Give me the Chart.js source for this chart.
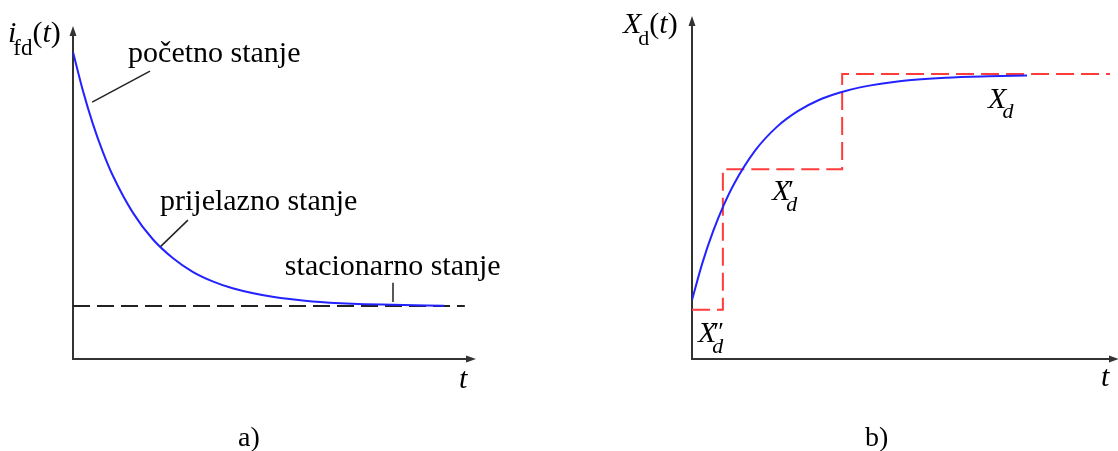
<!DOCTYPE html>
<html>
<head>
<meta charset="utf-8">
<script src="https://cdn.jsdelivr.net/npm/chart.js@4.4.1/dist/chart.umd.min.js"></script>
<style>
body { margin: 0; background: #fff; }
#wrap { position: relative; width: 1118px; height: 451px; }
canvas { position: absolute; left: 0; top: 0; }
</style>
</head>
<body>
<div id="wrap">
  <canvas id="chartA" width="1118" height="451"></canvas>
  <canvas id="chartB" width="1118" height="451"></canvas>
</div>
<script>
// a) field current i_fd(t) (t and i in arbitrary units 0..10)
const timeA = [0, 0.25, 0.5, 0.75, 1, 1.5, 2, 2.5, 3, 3.5, 4, 5, 6, 7, 8, 9.3];
const currentA = [9.33, 8.15, 7.14, 6.29, 5.57, 4.45, 3.64, 3.07, 2.65, 2.36, 2.15, 1.89, 1.75, 1.68, 1.65, 1.62];
const steadyT = [0, 9.82];
const steadyI = [1.61, 1.61];
// leader lines for the three labels
const leaderStart = [[0.48, 7.81], [1.93, 8.75]];
const leaderTrans = [[2.18, 3.40], [2.88, 4.22]];
const leaderSteady = [[8.02, 2.32], [8.02, 1.73]];

// b) reactance X_d(t)
const timeB = [0, 0.25, 0.5, 0.75, 1, 1.5, 2, 2.5, 3, 3.5, 4, 5, 6, 7, 7.92];
const reactB = [1.74, 2.85, 3.77, 4.54, 5.18, 6.16, 6.84, 7.31, 7.64, 7.86, 8.02, 8.21, 8.30, 8.34, 8.36];
const stepT = [0, 0.73, 0.73, 3.55, 3.55, 9.88];
const stepX = [1.45, 1.45, 5.60, 5.60, 8.41, 8.41];

const serif = '"Liberation Serif", "Times New Roman", serif';
const blue = 'rgb(35,35,255)';
const red = 'rgb(255,60,60)';

function pts(xs, ys) {
    return xs.map((x, i) => ({ x: x, y: ys[i] }));
}
function pairs(arr) {
    return arr.map(p => ({ x: p[0], y: p[1] }));
}

function axisScales() {
    return {
        x: {
            type: 'linear', min: 0, max: 10,
            ticks: { display: false }, grid: { display: false },
            border: { display: true, color: '#333', width: 2 },
            afterFit: s => { s.height = 0; }
        },
        y: {
            type: 'linear', min: 0, max: 10,
            ticks: { display: false }, grid: { display: false },
            border: { display: true, color: '#333', width: 2 },
            afterFit: s => { s.width = 0; }
        }
    };
}

function txt(ctx, s, x, y, font) {
    ctx.font = font;
    ctx.fillText(s, x, y);
    return ctx.measureText(s).width;
}

// arrow heads on the axes + text labels
function makeDecor(drawLabels) {
    return {
        id: 'decor',
        afterDraw(chart) {
            const ctx = chart.ctx;
            const a = chart.chartArea;
            ctx.save();
            ctx.fillStyle = '#333';
            ctx.beginPath();
            ctx.moveTo(a.left, a.top - 4);
            ctx.lineTo(a.left - 3.5, a.top + 6);
            ctx.lineTo(a.left + 3.5, a.top + 6);
            ctx.closePath();
            ctx.fill();
            ctx.beginPath();
            ctx.moveTo(a.right + 4, a.bottom);
            ctx.lineTo(a.right - 6, a.bottom - 3.5);
            ctx.lineTo(a.right - 6, a.bottom + 3.5);
            ctx.closePath();
            ctx.fill();
            ctx.fillStyle = '#000';
            ctx.textBaseline = 'alphabetic';
            drawLabels(chart, ctx);
            ctx.restore();
        }
    };
}

const baseOptions = (padding) => ({
    responsive: false,
    animation: false,
    layout: { padding: padding },
    plugins: { legend: { display: false }, tooltip: { enabled: false } },
    scales: axisScales(),
    elements: { point: { radius: 0 } }
});

new Chart(document.getElementById('chartA'), {
    type: 'line',
    data: {
        datasets: [
            { data: pts(timeA, currentA), borderColor: blue, borderWidth: 2, cubicInterpolationMode: 'monotone' },
            { data: pts(steadyT, steadyI), borderColor: '#222', borderWidth: 2, borderDash: [17, 7] },
            { data: pairs(leaderStart), borderColor: '#222', borderWidth: 1.5 },
            { data: pairs(leaderTrans), borderColor: '#222', borderWidth: 1.5 },
            { data: pairs(leaderSteady), borderColor: '#222', borderWidth: 1.5 }
        ]
    },
    options: baseOptions({ left: 73, top: 30, right: 1118 - 472, bottom: 451 - 359 }),
    plugins: [makeDecor((chart, ctx) => {
        const sx = chart.scales.x, sy = chart.scales.y;
        const big = '30px ' + serif;
        txt(ctx, 'početno stanje', sx.getPixelForValue(1.38), sy.getPixelForValue(9.03), big);
        txt(ctx, 'prijelazno stanje', sx.getPixelForValue(2.18), sy.getPixelForValue(4.53), big);
        txt(ctx, 'stacionarno stanje', sx.getPixelForValue(5.31), sy.getPixelForValue(2.55), big);
        // y axis title i_fd(t)
        let x = 8;
        x += txt(ctx, 'i', x, 42, 'italic 30px ' + serif);
        x += txt(ctx, 'fd', x - 3, 55, '23px ' + serif) - 3;
        x += txt(ctx, '(', x, 42, '30px ' + serif);
        x += txt(ctx, 't', x, 42, 'italic 30px ' + serif);
        txt(ctx, ')', x, 42, '30px ' + serif);
        txt(ctx, 't', 459, 388, 'italic 30px ' + serif);
        txt(ctx, 'a)', 238, 446, '28px ' + serif);
    })]
});

new Chart(document.getElementById('chartB'), {
    type: 'line',
    data: {
        datasets: [
            { data: pts(timeB, reactB), borderColor: blue, borderWidth: 2, cubicInterpolationMode: 'monotone' },
            { data: pts(stepT, stepX), borderColor: red, borderWidth: 2, borderDash: [18, 7] }
        ]
    },
    options: baseOptions({ left: 692, top: 20, right: 1118 - 1115, bottom: 451 - 359 }),
    plugins: [makeDecor((chart, ctx) => {
        const sx = chart.scales.x, sy = chart.scales.y;
        const it = 'italic 30px ' + serif;
        const sub = 'italic 22px ' + serif;
        // X_d
        let x = sx.getPixelForValue(7.0), y = sy.getPixelForValue(7.40);
        let w = txt(ctx, 'X', x, y, it);
        txt(ctx, 'd', x + w - 4, y + 10, sub);
        // X'_d
        x = sx.getPixelForValue(1.89); y = sy.getPixelForValue(4.69);
        w = txt(ctx, 'X', x, y, it);
        txt(ctx, 'd', x + w - 4, y + 11, sub);
        txt(ctx, '\u2032', x + w - 2, y - 2, '26px ' + serif);
        // X''_d
        x = sx.getPixelForValue(0.14); y = sy.getPixelForValue(0.50);
        w = txt(ctx, 'X', x, y, it);
        txt(ctx, 'd', x + w - 4, y + 11, sub);
        txt(ctx, '\u2033', x + w - 3, y - 2, '26px ' + serif);
        // y axis title X_d(t)
        x = 623;
        x += txt(ctx, 'X', x, 33, it);
        x += txt(ctx, 'd', x - 3, 45, '22px ' + serif) - 3;
        x += txt(ctx, '(', x, 33, '30px ' + serif);
        x += txt(ctx, 't', x, 33, it);
        txt(ctx, ')', x, 33, '30px ' + serif);
        txt(ctx, 't', 1101, 386, it);
        txt(ctx, 'b)', 865, 446, '28px ' + serif);
    })]
});
</script>
</body>
</html>
